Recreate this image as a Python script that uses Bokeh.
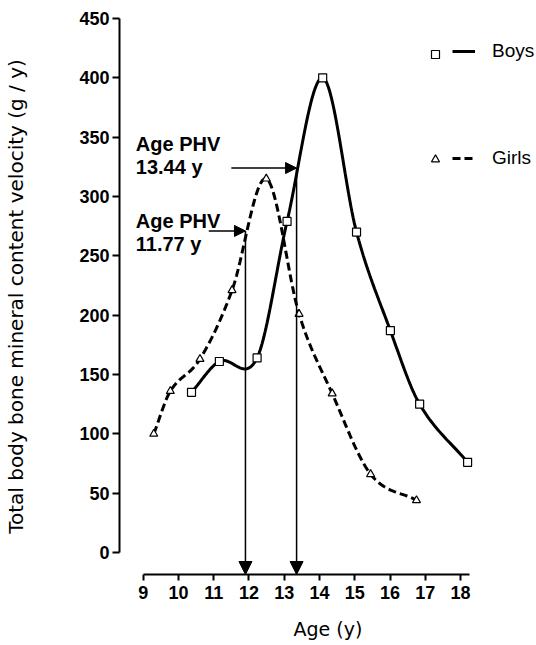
import numpy as np
from bokeh.plotting import figure
from bokeh.models import (LinearAxis, Arrow, NormalHead, ColumnDataSource, Legend,
                          LegendItem, Range1d, FixedTicker)
from bokeh.core.properties import value
from bokeh.embed import file_html
from bokeh.resources import INLINE

# ---- data ----
boys_age = [10.37, 11.16, 12.23, 13.08, 14.09, 15.05, 16.01, 16.84, 18.2]
boys_bmc = [135, 161, 164, 279, 400, 270, 187, 125, 76]
girls_age = [9.30, 9.77, 10.61, 11.52, 12.49, 13.42, 14.36, 15.45, 16.75]
girls_bmc = [100, 136, 163, 221, 315, 201, 134, 66, 44]

x_ticks = [9, 10, 11, 12, 13, 14, 15, 16, 17, 18]
y_ticks = [0, 50, 100, 150, 200, 250, 300, 350, 400, 450]

# PHV annotations (boys, girls)
phv_text = ["Age PHV", "13.44 y", "Age PHV", "11.77 y"]
phv_text_x = [8.79, 8.79, 8.79, 8.79]
phv_text_y = [344, 325, 279, 260]
phv_age = [13.35, 11.9]          # where the arrows are drawn
phv_velocity = [324, 271]        # where the arrows meet the curves
phv_arrow_from = [11.5, 10.86]   # start of the horizontal arrows

FONT = "Liberation Sans"


def smooth(xs, ys, n=30):
    """Cardinal (Catmull-Rom) Hermite curve through the read points, for drawing."""
    xs = np.asarray(xs, float)
    ys = np.asarray(ys, float)
    m = np.empty_like(ys)
    m[1:-1] = (ys[2:] - ys[:-2]) / (xs[2:] - xs[:-2])
    m[0] = (ys[1] - ys[0]) / (xs[1] - xs[0])
    m[-1] = (ys[-1] - ys[-2]) / (xs[-1] - xs[-2])
    out_x, out_y = [], []
    for i in range(len(xs) - 1):
        h = xs[i + 1] - xs[i]
        t = np.linspace(0, 1, n, endpoint=(i == len(xs) - 2))
        h00 = 2 * t**3 - 3 * t**2 + 1
        h10 = t**3 - 2 * t**2 + t
        h01 = -2 * t**3 + 3 * t**2
        h11 = t**3 - t**2
        out_x.extend(xs[i] + t * h)
        out_y.extend(h00 * ys[i] + h10 * h * m[i] + h01 * ys[i + 1] + h11 * h * m[i + 1])
    return out_x, out_y


p = figure(width=536, height=645,
           x_range=Range1d(8.328, 20.154), y_range=Range1d(-18.5, 450),
           output_backend="svg", toolbar_location=None,
           x_axis_location=None, y_axis_location=None,
           min_border_left=119, min_border_right=0,
           min_border_top=18, min_border_bottom=71)
p.grid.visible = False
p.outline_line_color = None
p.background_fill_color = "white"

xaxis = LinearAxis(bounds=(9, 18.25), ticker=FixedTicker(ticks=x_ticks),
                   axis_label="Age (y)")
yaxis = LinearAxis(bounds=(0, 450), ticker=FixedTicker(ticks=y_ticks),
                   axis_label="Total body bone mineral content velocity (g / y)")
for ax in (xaxis, yaxis):
    ax.axis_line_width = 2
    ax.axis_line_color = "black"
    ax.major_tick_line_width = 2
    ax.major_tick_line_color = "black"
    ax.major_tick_in = 0
    ax.minor_tick_line_color = None
    ax.major_label_text_font = FONT
    ax.major_label_text_font_style = "bold"
    ax.major_label_text_font_size = "18px"
    ax.major_label_text_color = "black"
    ax.axis_label_text_font = "DejaVu Sans"
    ax.axis_label_text_font_style = "normal"
    ax.axis_label_text_color = "black"
xaxis.axis_label_text_font_size = "19px"
yaxis.axis_label_text_font_size = "20px"
xaxis.major_tick_out = 6
xaxis.major_label_standoff = 5
xaxis.axis_label_standoff = 16
yaxis.major_tick_out = 7
yaxis.major_label_standoff = 3
yaxis.axis_label_standoff = 48
p.add_layout(xaxis, "below")
p.add_layout(yaxis, "left")

boys_src = ColumnDataSource(dict(x=boys_age, y=boys_bmc))
girls_src = ColumnDataSource(dict(x=girls_age, y=girls_bmc))
bx, by = smooth(boys_age, boys_bmc)
gx, gy = smooth(girls_age, girls_bmc)

boys_line = p.line(bx, by, line_color="black", line_width=3)
girls_line = p.line(gx, gy, line_color="black", line_width=3, line_dash="8 4")

# arrows
h_src = ColumnDataSource(dict(x0=phv_arrow_from, x1=phv_age, y=phv_velocity))
p.add_layout(Arrow(source=h_src, x_start="x0", y_start="y", x_end="x1", y_end="y",
                   line_width=1.5, line_color="black",
                   end=NormalHead(size=11, fill_color="black", line_color="black")))
v_src = ColumnDataSource(dict(x=phv_age, y0=phv_velocity, y1=[-18.5, -18.5]))
p.add_layout(Arrow(source=v_src, x_start="x", y_start="y0", x_end="x", y_end="y1",
                   line_width=1.5, line_color="black",
                   end=NormalHead(size=13, fill_color="black", line_color="black")))

boys_pts = p.scatter(x="x", y="y", source=boys_src, marker="square", size=8,
                     fill_color="white", line_color="black", line_width=1.2)
girls_pts = p.scatter(x="x", y="y", source=girls_src, marker="triangle", size=8,
                      fill_color="white", line_color="black", line_width=1.2)

p.text(x=phv_text_x, y=phv_text_y, text=phv_text, text_font=value(FONT),
       text_font_style="bold", text_font_size="20px", text_color="black",
       text_baseline="alphabetic", text_align="left")

# legends: markers, then line + label
leg_markers = Legend(items=[LegendItem(label=" ", renderers=[boys_pts]),
                            LegendItem(label=" ", renderers=[girls_pts])],
                     location=(306, 405), glyph_width=20, glyph_height=20,
                     label_height=20, spacing=85, padding=0, margin=0,
                     label_standoff=0, border_line_color=None,
                     background_fill_alpha=0, label_text_font_size="10px")
leg_lines = Legend(items=[LegendItem(label="Boys", renderers=[boys_line]),
                          LegendItem(label="Girls", renderers=[girls_line])],
                   location=(333, 405), glyph_width=23, glyph_height=20,
                   label_height=20, spacing=85, padding=0, margin=0,
                   label_standoff=17, border_line_color=None,
                   background_fill_alpha=0, label_text_font=FONT,
                   label_text_font_size="19px", label_text_color="black")
p.add_layout(leg_markers, "center")
p.add_layout(leg_lines, "center")

open("out.html", "w").write(file_html(p, INLINE))
